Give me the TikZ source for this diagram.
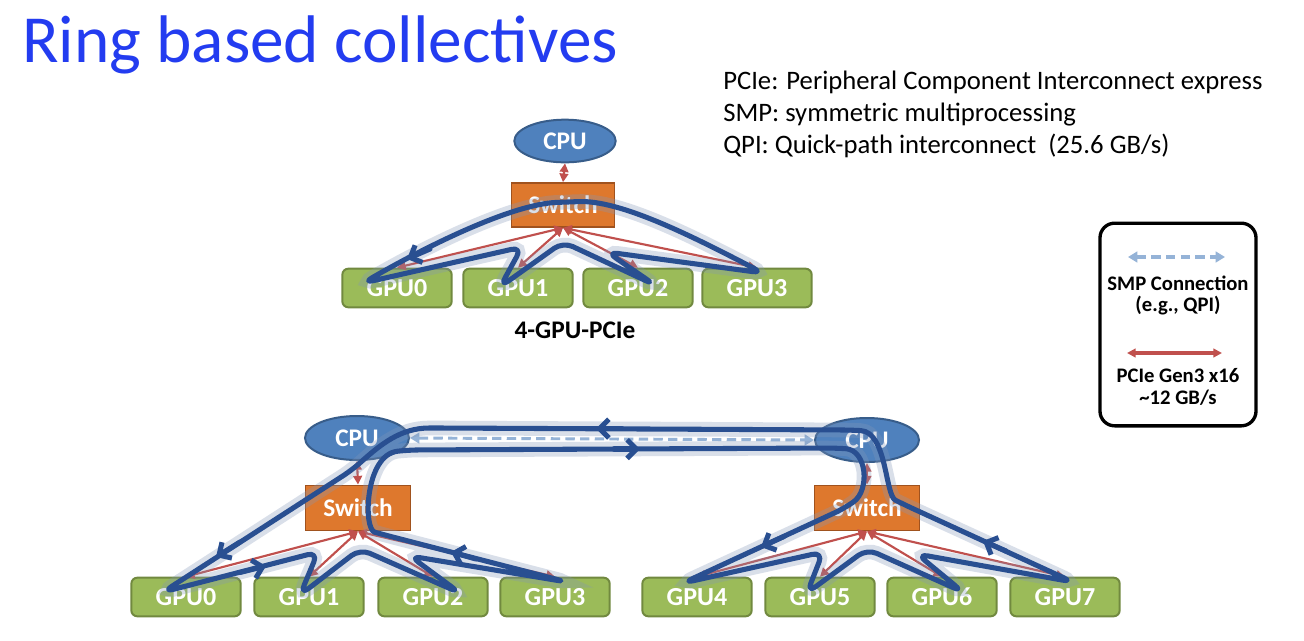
\documentclass[tikz,border=0pt]{standalone}
\usepackage{fontspec}
\setmainfont{Carlito}
\usetikzlibrary{arrows.meta,calc,shapes.geometric}
\definecolor{titleblue}{RGB}{35,60,240}
\definecolor{cpufill}{RGB}{79,129,189}
\definecolor{cpuline}{RGB}{56,93,138}
\definecolor{swfill}{RGB}{222,120,45}
\definecolor{swline}{RGB}{160,82,30}
\definecolor{gpufill}{RGB}{155,187,89}
\definecolor{gpuline}{RGB}{113,137,63}
\definecolor{pcie}{RGB}{192,80,77}
\definecolor{smp}{RGB}{149,179,215}
\definecolor{ringc}{RGB}{41,79,145}
\definecolor{glowc}{RGB}{130,150,185}
\tikzset{
  gpu/.style={rectangle, rounded corners=4.5pt, fill=gpufill, draw=gpuline, line width=1.5pt,
    minimum width=82pt, minimum height=29pt, inner sep=0pt, text=white,
    font=\fontsize{19.5}{20}\selectfont\bfseries},
  switchbox/.style={rectangle, fill=swfill, draw=swline, line width=1.2pt,
    minimum width=77pt, minimum height=33pt, inner sep=0pt, text=white,
    font=\fontsize{19}{20}\selectfont\bfseries},
  cpu/.style={ellipse, fill=cpufill, draw=cpuline, line width=1.5pt,
    minimum width=76pt, minimum height=32pt, inner sep=0pt, text=white,
    font=\fontsize{19}{20}\selectfont\bfseries},
  pciearr/.style={draw=pcie, line width=1.6pt, {Triangle[length=6.5pt,width=6.5pt]}-{Triangle[length=6.5pt,width=6.5pt]}},
  smparr/.style={draw=smp, line width=2.2pt, dash pattern=on 7pt off 4pt, {Triangle[length=7pt,width=8pt]}-{Triangle[length=7pt,width=8pt]}},
  ringline/.style={draw=ringc, line width=3.8pt, line cap=round, line join=round,
    preaction={draw=glowc, line width=11pt, opacity=0.3}},
  ringarrow/.style={draw=ringc, line width=3.8pt, line cap=round, -{Straight Barb[length=7pt,width=14pt]}},
  legtext/.style={font=\fontsize{15.5}{16}\selectfont\bfseries, anchor=base},
  notetext/.style={font=\fontsize{20}{22}\selectfont, anchor=base west},
}
\begin{document}
\begin{tikzpicture}[x=0.75pt,y=-0.75pt]
\useasboundingbox[fill=white] (0,0) rectangle (1304,640);

% title and notes
\node[anchor=base west, text=titleblue, font=\fontsize{50.5}{55}\selectfont, inner sep=0pt] (title) at (22,62) {Ring based collectives};
\node[notetext, inner sep=0pt] (n1) at (723,89) {PCIe: Peripheral Component Interconnect express};
\node[notetext, inner sep=0pt] (n2) at (723,121) {SMP: symmetric multiprocessing};
\node[notetext, inner sep=0pt] (n3) at (723,153) {QPI: Quick-path interconnect\ \ (25.6 GB/s)};

% legend
\node[draw=black, line width=2.5pt, rounded corners=11pt, minimum width=117pt, minimum height=152pt, inner sep=0pt] (legend) at (1178,324.5) {};
\coordinate (la1) at (1128,257);
\coordinate (la2) at (1225,257);
\draw[smparr, line width=2.8pt] (la1) -- (la2);
\node[legtext] (l1) at (1178,290) {SMP Connection};
\node[legtext] (l2) at (1178,311) {(e.g., QPI)};
\coordinate (lb1) at (1127,353);
\coordinate (lb2) at (1222,353);
\draw[pciearr, line width=2.6pt] (lb1) -- (lb2);
\node[legtext] (l3) at (1178,382) {PCIe Gen3 x16};
\node[legtext] (l4) at (1178,404) {\textasciitilde12 GB/s};

% ---------- top system ----------
\node[cpu] (cpu) at (565,141) {CPU};
\node[switchbox] (sw) at (563,205) {Switch};
\node[gpu] (g0) at (397,288) {GPU0};
\node[gpu] (g1) at (518,288) {GPU1};
\node[gpu] (g2) at (638,288) {GPU2};
\node[gpu] (g3) at (757,288) {GPU3};
\node[font=\fontsize{19}{20}\selectfont\bfseries] (lab) at (575,330) {4-GPU-PCIe};
\draw[pciearr] (cpu.south) -- (sw.north);
\foreach \g in {g0,g1,g2,g3} \draw[pciearr] (sw.south) -- (\g.north);

% top ring
\coordinate (G0p) at (363,283);
\coordinate (H1) at (522,247);
\coordinate (G1p) at (500,287);
\coordinate (Ap) at (563,242);
\coordinate (G2p) at (655,285);
\coordinate (H2) at (607,252);
\coordinate (G3p) at (763,273);
\coordinate (T) at (568,202);
\draw[ringline, rounded corners=8pt] (G3p) .. controls (690,235) and (620,200) .. (T)
  .. controls (510,204) and (420,250) .. (G0p) -- (H1) -- (G1p) -- (Ap) -- (G2p) -- (H2) -- cycle;
\coordinate (ta1) at (430,249);
\coordinate (ta2) at (407,259);
\draw[ringarrow] (ta1) -- (ta2);

% ---------- bottom system ----------
\node[cpu, minimum width=78pt, minimum height=33pt] (cpuL) at (357,438) {CPU};
\node[cpu, minimum width=78pt, minimum height=33pt] (cpuR) at (867,440) {CPU};
\node[switchbox, minimum width=79pt, minimum height=34pt] (swL) at (358,508) {Switch};
\node[switchbox, minimum width=79pt, minimum height=34pt] (swR) at (867,508) {Switch};
\node[gpu] (b0) at (186,597) {GPU0};
\node[gpu] (b1) at (309,597) {GPU1};
\node[gpu] (b2) at (433,597) {GPU2};
\node[gpu] (b3) at (555,597) {GPU3};
\node[gpu] (b4) at (697,597) {GPU4};
\node[gpu] (b5) at (820,597) {GPU5};
\node[gpu] (b6) at (942,597) {GPU6};
\node[gpu] (b7) at (1065,597) {GPU7};
\draw[pciearr] (cpuL.south) -- (swL.north);
\draw[pciearr] (cpuR.south) -- (swR.north);
\foreach \g in {b0,b1,b2,b3} \draw[pciearr] (swL.south) -- (\g.north);
\foreach \g in {b4,b5,b6,b7} \draw[pciearr] (swR.south) -- (\g.north);
\draw[smparr] (cpuL.east) -- (cpuR.west);

% bottom ring
\coordinate (A0) at (163,592);
\coordinate (HA1) at (318,552);
\coordinate (A1) at (300,595);
\coordinate (AA) at (360,549);
\coordinate (A2) at (460,593);
\coordinate (HA3) at (410,556);
\coordinate (A3) at (567,582);
\coordinate (B4) at (683,583);
\coordinate (HB5) at (823,552);
\coordinate (B5) at (807,593);
\coordinate (BA) at (867,549);
\coordinate (B6) at (963,592);
\coordinate (HB7) at (917,554);
\coordinate (B7) at (1073,582);
\draw[ringline, rounded corners=8pt]
  (A0) -- (HA1) -- (A1) -- (AA) -- (A2) -- (HA3) -- (A3) -- (385,535)
  .. controls (363,529) and (365,455) .. (408,450) -- (835,448)
  .. controls (867,450) and (870,490) .. (845,508) -- (B4) -- (HB5) -- (B5) -- (BA) -- (B6) -- (HB7) -- (B7)
  -- (905,505) .. controls (885,495) and (887,432) .. (850,430) -- (440,428)
  .. controls (400,428) and (380,445) .. (352,470) -- cycle;
\coordinate (u1) at (622,428.5);
\coordinate (u2) at (596,428.5);
\draw[ringarrow] (u1) -- (u2);
\coordinate (w1) at (614,449);
\coordinate (w2) at (640,449);
\draw[ringarrow] (w1) -- (w2);
\coordinate (x1) at (240,542);
\coordinate (x2) at (216,557);
\draw[ringarrow] (x1) -- (x2);
\coordinate (y1) at (240,572.5);
\coordinate (y2) at (266,566);
\draw[ringarrow] (y1) -- (y2);
\coordinate (z1) at (476,559);
\coordinate (z2) at (451,552);
\draw[ringarrow] (z1) -- (z2);
\coordinate (r1) at (784,536.5);
\coordinate (r2) at (761,547);
\draw[ringarrow] (r1) -- (r2);
\coordinate (s1) at (1006,551);
\coordinate (s2) at (983,541);
\draw[ringarrow] (s1) -- (s2);
\end{tikzpicture}
\end{document}
